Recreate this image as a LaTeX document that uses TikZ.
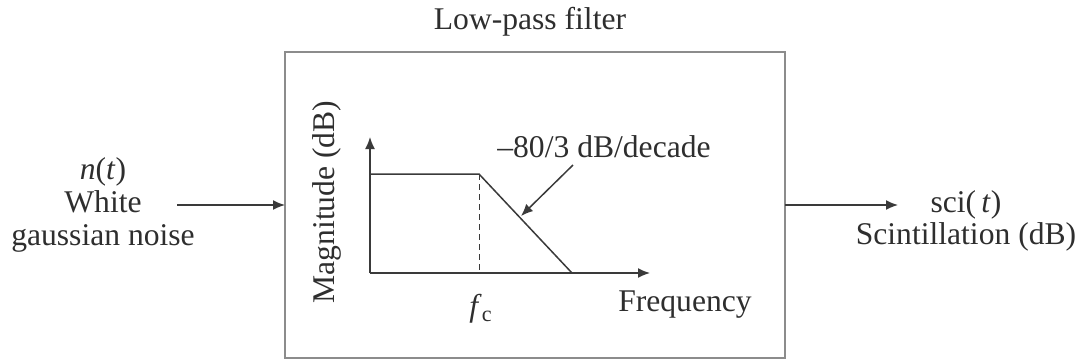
\documentclass[tikz,border=0pt]{standalone}
\usepackage{fontspec}
\setmainfont{Liberation Serif}
\usetikzlibrary{arrows.meta, positioning}
\definecolor{cline}{HTML}{3A3A3A}
\definecolor{cbox}{HTML}{8C8C8C}
\definecolor{ctext}{HTML}{2E2E2E}
\tikzset{
  every picture/.style={font=\fontsize{15.8}{16.3}\selectfont, line width=0.75pt},
  filterbox/.style={draw=cbox, line width=1pt, minimum width=250pt, minimum height=153pt, inner sep=0pt, outer sep=0pt},
  arrow/.style={-{Latex[length=6pt, width=5pt]}, draw=cline},
  axis/.style={-{Latex[length=6pt, width=5pt]}, draw=cline},
  curve/.style={draw=cline},
  guide/.style={draw=cline, dashed, line width=0.5pt, dash pattern=on 3pt off 2pt},
  txt/.style={text=ctext, align=center, inner sep=1pt},
}
\begin{document}
\begin{tikzpicture}[x=0.5pt, y=-0.5pt]
  \useasboundingbox (0,0) rectangle (1083,361);

  \node[txt] (title) at (530,22) {Low-pass filter};
  \node[filterbox] (lpf) at (535,205) {};

  \node[txt] (src) at (103,205) {\textit{n}(\textit{t})\\ White\\ gaussian noise};
  \coordinate (srcend) at (177,205);
  \draw[arrow] (srcend) -- (lpf.west);

  \node[txt] (out) at (966,221) {sci(\,\textit{t})\\ Scintillation (dB)};
  \coordinate (outend) at (898,205);
  \draw[arrow] (lpf.east |- outend) -- (outend);

  % magnitude response sketch
  \coordinate (o) at (370,273);
  \coordinate (ytip) at (370,137);
  \coordinate (xtip) at (650,273);
  \coordinate (pass) at (370,174);
  \coordinate (knee) at (479,174);
  \coordinate (roll) at (572,273);
  \coordinate (fcfoot) at (479,273);
  \draw[axis] (o) -- (ytip);
  \draw[axis] (o) -- (xtip);
  \draw[curve] (pass) -- (knee) -- (roll);
  \draw[guide] (knee) -- (fcfoot);

  \node[txt, rotate=90] (mag) at (327,202) {Magnitude (dB)};
  \node[txt] (fc) at (481,309) {\textit{f}\textsubscript{c}};
  \node[txt] (freq) at (685,305) {Frequency};
  \node[txt] (slope) at (604,147) {–80/3 dB/decade};
  \coordinate (ptrstart) at (573,165);
  \coordinate (ptr) at (521,216);
  \draw[arrow] (ptrstart) -- (ptr);
\end{tikzpicture}
\end{document}
